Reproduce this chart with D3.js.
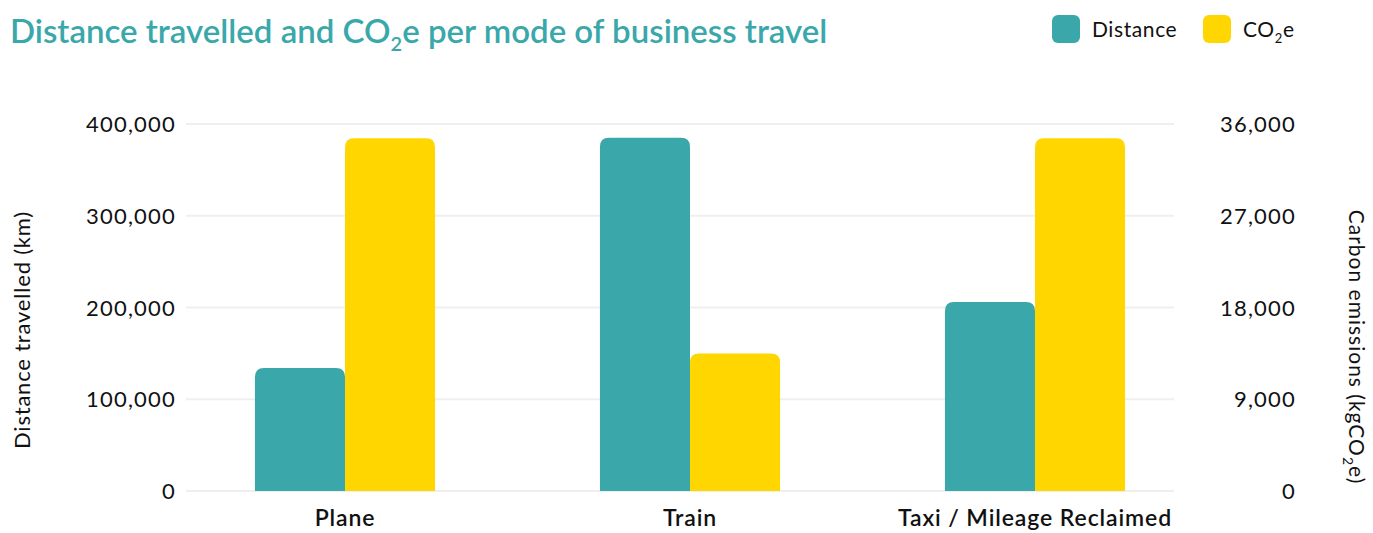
<!DOCTYPE html>
<html>
<head>
<meta charset="utf-8">
<script src="https://cdn.jsdelivr.net/npm/d3@7"></script>
<style>
  body { margin: 0; background: #fff; }
  text { font-family: Lato, "Open Sans", sans-serif; }
</style>
</head>
<body>
<svg id="chart" width="1373" height="533"></svg>
<script>
// data
const categories = ['Plane', 'Train', 'Taxi / Mileage Reclaimed'];
const distance = [134000, 385000, 206000];
const co2e = [34600, 13500, 34600];
const leftTicks = [0, 100000, 200000, 300000, 400000];
const rightTicks = [0, 9000, 18000, 27000, 36000];

const teal = '#3aa8ab';
const yellow = '#ffd600';

const svg = d3.select('#chart');
const plot = { left: 186, right: 1174, top: 124, bottom: 491 };

const x = d3.scaleBand()
  .domain(categories)
  .range([172.5, 1207.5])
  .paddingInner(0.478)
  .paddingOuter(0.239);

const xSub = d3.scaleBand()
  .domain(['distance', 'co2e'])
  .range([0, x.bandwidth()]);

const yLeft = d3.scaleLinear().domain([0, 400000]).range([plot.bottom, plot.top]);
const yRight = d3.scaleLinear().domain([0, 36000]).range([plot.bottom, plot.top]);

// gridlines
svg.append('g')
  .selectAll('line')
  .data(leftTicks)
  .enter().append('line')
  .attr('x1', plot.left)
  .attr('x2', plot.right)
  .attr('y1', d => yLeft(d))
  .attr('y2', d => yLeft(d))
  .attr('stroke', '#efefef')
  .attr('stroke-width', 2);

// bar with rounded top corners
function barPath(x0, w, yTop, yBase, r) {
  r = Math.min(r, (yBase - yTop), w / 2);
  return `M${x0},${yBase} V${yTop + r} Q${x0},${yTop} ${x0 + r},${yTop} H${x0 + w - r} Q${x0 + w},${yTop} ${x0 + w},${yTop + r} V${yBase} Z`;
}

const groups = svg.append('g')
  .selectAll('g')
  .data(categories)
  .enter().append('g')
  .attr('transform', d => `translate(${x(d)},0)`);

groups.append('path')
  .attr('fill', teal)
  .attr('d', (d, i) => barPath(xSub('distance'), xSub.bandwidth(), yLeft(distance[i]), yLeft(0), 9));

groups.append('path')
  .attr('fill', yellow)
  .attr('d', (d, i) => barPath(xSub('co2e'), xSub.bandwidth(), yRight(co2e[i]), yRight(0), 9));

// axes
const fmt = d3.format(',');
const leftAxis = svg.append('g')
  .attr('transform', `translate(${plot.left - 10},0)`)
  .call(d3.axisLeft(yLeft).tickValues(leftTicks).tickFormat(fmt).tickSize(0).tickPadding(0));
const rightAxis = svg.append('g')
  .attr('transform', `translate(1296,0)`)
  .call(d3.axisLeft(yRight).tickValues(rightTicks).tickFormat(fmt).tickSize(0).tickPadding(0));
const bottomAxis = svg.append('g')
  .attr('transform', `translate(0,${plot.bottom})`)
  .call(d3.axisBottom(x).tickSize(0).tickPadding(19));

[leftAxis, rightAxis, bottomAxis].forEach(a => {
  a.select('.domain').remove();
  a.selectAll('text')
    .attr('font-family', 'Lato, sans-serif')
    .attr('font-size', 22)
    .attr('letter-spacing', 1.2)
    .attr('fill', '#111');
});
leftAxis.selectAll('text').attr('dy', '0.35em');
rightAxis.selectAll('text').attr('dy', '0.35em');
bottomAxis.selectAll('text')
  .attr('font-weight', 600)
  .attr('font-size', 23)
  .attr('letter-spacing', 0.9)
  .attr('dy', '0.71em');

// axis titles
svg.append('text')
  .attr('transform', 'translate(30,330) rotate(-90)')
  .attr('text-anchor', 'middle')
  .attr('font-size', 22)
  .attr('letter-spacing', 0.8)
  .attr('fill', '#111')
  .text('Distance travelled (km)');

const rt = svg.append('text')
  .attr('transform', 'translate(1349,347) rotate(90)')
  .attr('text-anchor', 'middle')
  .attr('font-size', 21)
  .attr('letter-spacing', 1)
  .attr('fill', '#111');
rt.append('tspan').text('Carbon emissions (kgCO');
rt.append('tspan').attr('font-size', 14).attr('dy', 6).text('2');
rt.append('tspan').attr('dy', -6).text('e)');

// title
const title = svg.append('text')
  .attr('x', 10)
  .attr('y', 43)
  .attr('font-size', 33)
  .attr('font-weight', 600)
  .attr('fill', teal);
title.append('tspan').text('Distance travelled and CO');
title.append('tspan').attr('font-size', 20).attr('dy', 8).text('2');
title.append('tspan').attr('dy', -8).text('e per mode of business travel');

// legend
const legendItems = [
  { label: 'Distance', color: teal, x: 1052 },
  { label: 'CO2e', color: yellow, x: 1203 }
];
const legend = svg.append('g').attr('class', 'legend');
legendItems.forEach(item => {
  legend.append('rect')
    .attr('x', item.x)
    .attr('y', 15)
    .attr('width', 28)
    .attr('height', 28)
    .attr('rx', 6)
    .attr('fill', item.color);
  const t = legend.append('text')
    .attr('x', item.x + 40)
    .attr('y', 37)
    .attr('font-size', 21)
    .attr('letter-spacing', 0.6)
    .attr('fill', '#111');
  if (item.label === 'CO2e') {
    t.append('tspan').text('CO');
    t.append('tspan').attr('font-size', 13).attr('dy', 6).text('2');
    t.append('tspan').attr('dy', -6).text('e');
  } else {
    t.text(item.label);
  }
});
</script>
</body>
</html>
